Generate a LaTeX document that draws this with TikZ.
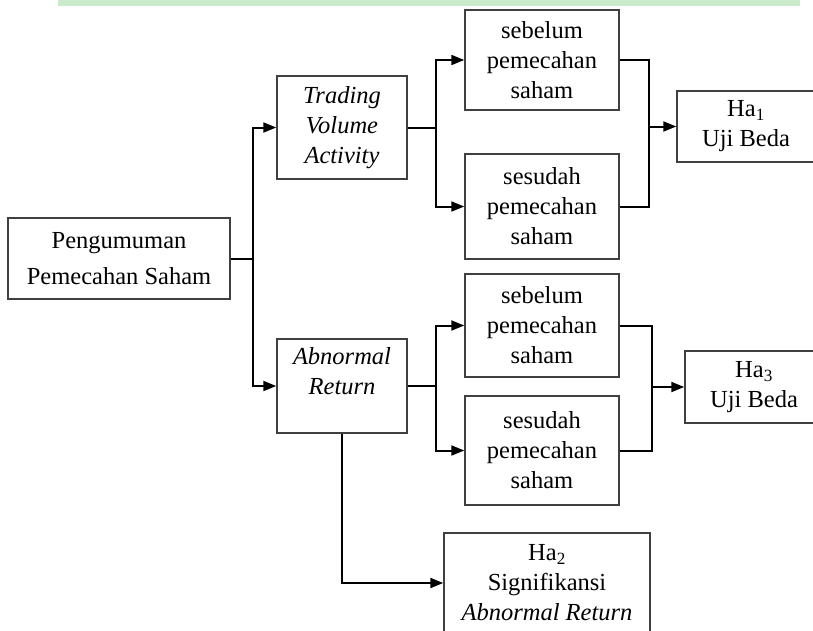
\documentclass[tikz,border=0pt]{standalone}
\usepackage{fontspec}
\setmainfont{Liberation Serif}
\usetikzlibrary{arrows.meta}
\tikzset{
  box/.style={draw=black!75, line width=1.5pt, align=center, inner sep=0pt,
    font=\fontsize{24.5}{30}\selectfont},
  link/.style={line width=2pt},
  arr/.style={link, -{Triangle[length=13pt,width=10pt]}}
}

\begin{document}
\begin{tikzpicture}[x=1pt,y=-1pt]
		%%%%% START %%%%%
		\useasboundingbox (0,0) rectangle (813,630);
		\fill[green!60!black!20] (58,0) rectangle (800,6);
		
		\node[box, minimum width=222pt, minimum height=81pt] (pp) at (119,258.5) {Pengumuman\\[6pt]Pemecahan Saham};
		
		\node[box, minimum width=130pt, minimum height=103pt] (tva) at (342,127.5) {\textit{Trading}\\\textit{Volume}\\\textit{Activity}};
		\node[box, minimum width=130pt, minimum height=94pt] (ar) at (342,386) {\textit{Abnormal}\\\textit{Return}\\~};
		
		\node[box, minimum width=154pt, minimum height=100pt] (sb1) at (542,60) {sebelum\\pemecahan\\saham};
		\node[box, minimum width=154pt, minimum height=105pt] (sd1) at (542,206.5) {sesudah\\pemecahan\\saham};
		\node[box, minimum width=154pt, minimum height=103pt] (sb2) at (542,325.5) {sebelum\\pemecahan\\saham};
		\node[box, minimum width=154pt, minimum height=109pt] (sd2) at (542,450.5) {sesudah\\pemecahan\\saham};
		
		\node[box, minimum width=138pt, minimum height=71pt] (ha1) at (746,126.5) {Ha\textsubscript{1}\\Uji Beda};
		\node[box, minimum width=138pt, minimum height=72pt] (ha3) at (754,387) {Ha\textsubscript{3}\\Uji Beda};
		\node[box, minimum width=206pt, minimum height=100pt] (ha2) at (547,583) {Ha\textsubscript{2}\\Signifikansi\\\textit{Abnormal Return}};
		
		\coordinate (j0) at (253,258.5);
		\coordinate (j1) at (436,127.5);
		\coordinate (j2) at (436,386);
		\coordinate (j3) at (649,126.5);
		\coordinate (j4) at (652,387);
		
		\draw[link] (pp.east) -- (j0);
		\draw[arr] (j0) |- (tva.west);
		\draw[arr] (j0) |- (ar.west);
		
		\draw[link] (tva.east) -- (j1);
		\draw[arr] (j1) |- (sb1.west);
		\draw[arr] (j1) |- (sd1.west);
		\draw[link] (ar.east) -- (j2);
		\draw[arr] (j2) |- (sb2.west);
		\draw[arr] (j2) |- (sd2.west);
		
		\draw[link] (sb1.east) -| (j3) |- (sd1.east);
		\draw[arr] (j3) -- (ha1.west);
		\draw[link] (sb2.east) -| (j4) |- (sd2.east);
		\draw[arr] (j4) -- (ha3.west);
		
		\draw[arr] (ar.south) |- (ha2.west);
		%%%%% END %%%%%
\end{tikzpicture}
\end{document}
